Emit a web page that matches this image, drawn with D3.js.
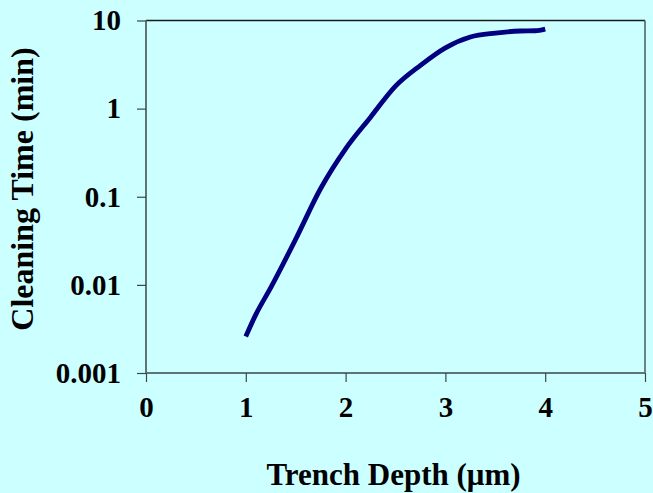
<!DOCTYPE html>
<html>
<head>
<meta charset="utf-8">
<script src="https://cdn.jsdelivr.net/npm/d3@7"></script>
<style>
  html, body { margin: 0; padding: 0; background: #CCFFFF; }
  svg { display: block; }
  text { font-family: "Liberation Serif", "Times New Roman", serif; font-weight: bold; fill: #000; }
</style>
</head>
<body>
<svg id="chart" width="653" height="493"></svg>
<script>
// Data
const depth = [1.0, 1.1, 1.25, 1.5, 1.75, 2.0, 2.25, 2.5, 2.75, 3.0, 3.25, 3.5, 3.75, 3.9, 4.0];
const cleaningTime = [0.0026, 0.0046, 0.0093, 0.033, 0.124, 0.35, 0.80, 1.8, 3.1, 4.9, 6.5, 7.2, 7.6, 7.65, 8.0];
const xTicks = [0, 1, 2, 3, 4, 5];
const yTicks = [0.001, 0.01, 0.1, 1, 10];
const yTickLabels = ["0.001", "0.01", "0.1", "1", "10"];
const xTitle = "Trench Depth (\u03bcm)";
const yTitle = "Cleaning Time (min)";

const svg = d3.select("#chart");
const L = 146, R = 645, T = 20.5, B = 373;

const x = d3.scaleLinear().domain([0, 5]).range([L, R]);
const y = d3.scaleLog().domain([0.001, 10]).range([B, T]);

svg.append("rect").attr("x", 0).attr("y", 0).attr("width", 653).attr("height", 493).attr("fill", "#CCFFFF");

// top and right borders
svg.append("line").attr("x1", L).attr("x2", R).attr("y1", T).attr("y2", T)
  .attr("stroke", "#1a1a1a").attr("stroke-width", 1.5);
svg.append("line").attr("x1", R).attr("x2", R).attr("y1", T).attr("y2", B)
  .attr("stroke", "#4a5a5a").attr("stroke-width", 1.5);

// axes
const yAxis = d3.axisLeft(y).tickValues(yTicks)
  .tickFormat((d, i) => yTickLabels[i]).tickSize(9).tickPadding(16);
const gy = svg.append("g").attr("transform", `translate(${L},0)`).call(yAxis);

const xAxis = d3.axisBottom(x).tickValues(xTicks).tickFormat(d3.format("d"))
  .tickSize(9).tickPadding(14);
const gx = svg.append("g").attr("transform", `translate(0,${B})`).call(xAxis);

[gx, gy].forEach(g => {
  g.select(".domain").attr("stroke", "#5f7575").attr("stroke-width", 2);
  g.selectAll(".tick line").attr("stroke", "#3a4848").attr("stroke-width", 1.2);
  g.selectAll(".tick text").style("font-family", '"Liberation Serif", "Times New Roman", serif')
    .style("font-weight", "bold").style("font-size", "29px").attr("fill", "#000");
});
gy.select(".domain").attr("d", `M0,${T}V${B}`);
gx.select(".domain").attr("d", `M${L},0H${R}`);

// line
const line = d3.line().x((d, i) => x(depth[i])).y(d => y(d)).curve(d3.curveMonotoneX);
svg.append("path").datum(cleaningTime)
  .attr("d", line)
  .attr("fill", "none")
  .attr("stroke", "#000080")
  .attr("stroke-width", 4.8)
  .attr("stroke-linejoin", "round");

// titles
svg.append("text").attr("x", (L + R) / 2 - 2).attr("y", 485)
  .attr("text-anchor", "middle").style("font-size", "31px").text(xTitle);
svg.append("text").attr("transform", `translate(33,${189}) rotate(-90)`)
  .attr("text-anchor", "middle").style("font-size", "32px").text(yTitle);
</script>
</body>
</html>
